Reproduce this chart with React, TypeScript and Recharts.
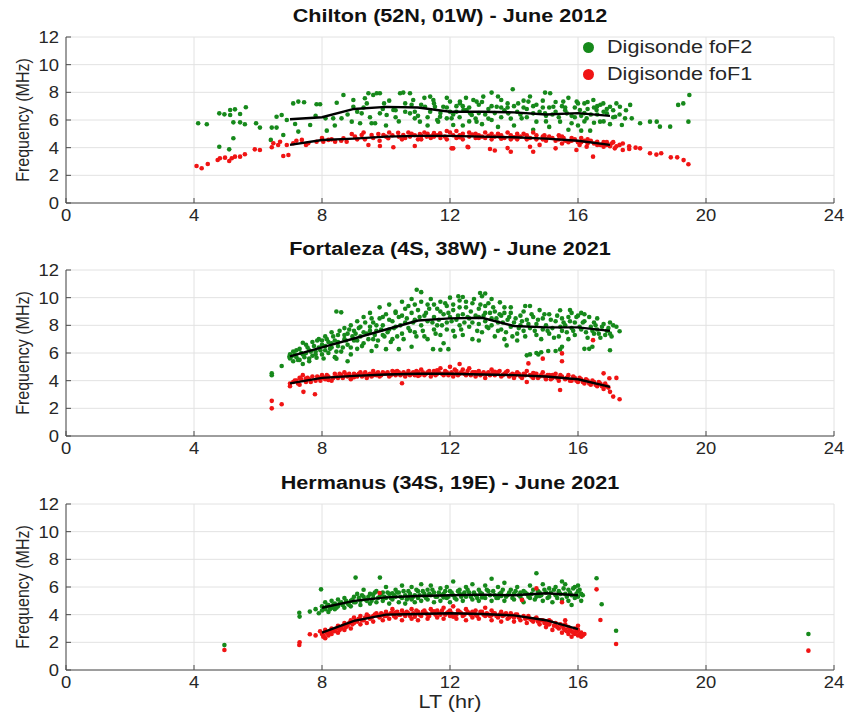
import React from 'react';
import { ScatterChart, Scatter, XAxis, YAxis, CartesianGrid } from 'recharts';

// Axis ticks
const xTicks = [0, 4, 8, 12, 16, 20, 24];
const yTicks = [0, 2, 4, 6, 8, 10, 12];

// Chilton (52N, 01W) - June 2012
const chiltonF2: [number, number][] = [
  [4.13, 5.76], [4.4, 5.69], [4.79, 6.48], [4.95, 6.41], [5.13, 6.72], [5.28, 6.77], [5.62, 6.92], [5.13, 6.36],
  [5.44, 6.43], [5.23, 5.83], [5.44, 5.83], [5.59, 5.69], [5.94, 5.76], [6.06, 5.45], [6.43, 5.45], [6.58, 5.45],
  [6.4, 4.56], [4.79, 4.07], [5.23, 4.68], [5.1, 3.88], [6.58, 6.24], [6.74, 6.36], [6.9, 6.0], [7.1, 7.2],
  [7.26, 7.33], [7.44, 7.28], [7.16, 5.71], [7.26, 5.16], [6.79, 4.92], [7.63, 5.64], [7.83, 7.14], [7.94, 7.14],
  [8.15, 5.23], [8.11, 6.12], [8.46, 7.25], [8.67, 7.81], [8.35, 6.12], [8.61, 6.12], [8.98, 7.45], [8.98, 6.96],
  [8.93, 5.88], [9.19, 5.76], [9.24, 6.48], [9.34, 7.57], [9.4, 7.2], [9.45, 7.93], [9.6, 7.81], [9.71, 7.93],
  [9.81, 7.93], [9.55, 5.76], [9.66, 5.76], [9.81, 6.48], [9.94, 7.2], [10.02, 6.36], [10.23, 6.72], [10.44, 7.93],
  [10.54, 7.98], [10.75, 7.93], [10.75, 6.48], [10.85, 7.45], [10.9, 6.12], [11.06, 5.88], [11.22, 6.96], [11.38, 6.6],
  [11.48, 7.45], [11.63, 5.88], [11.79, 6.96], [11.9, 6.12], [12.1, 5.64], [12.31, 7.33], [12.52, 6.72], [12.68, 6.36],
  [12.83, 7.33], [11.38, 7.69], [11.53, 6.96], [11.69, 6.24], [12.0, 7.33], [12.05, 6.12], [12.31, 7.2], [12.42, 6.72],
  [12.63, 6.48], [12.73, 7.45], [12.83, 5.88], [13.04, 7.69], [13.3, 7.98], [13.3, 6.0], [13.46, 6.96], [13.6, 7.45],
  [13.82, 6.48], [13.96, 8.22], [14.13, 7.2], [14.24, 6.12], [14.45, 7.33], [14.6, 6.48], [14.7, 5.88], [14.97, 7.98],
  [15.13, 7.93], [14.97, 6.48], [15.23, 6.96], [15.44, 5.88], [15.54, 7.33], [15.65, 6.48], [15.8, 5.76], [15.96, 7.33],
  [16.06, 6.72], [16.1, 5.23], [16.2, 7.2], [16.27, 6.12], [16.38, 5.23], [16.48, 7.45], [16.58, 6.72], [16.69, 5.88],
  [16.79, 7.2], [16.9, 6.48], [17.0, 6.96], [17.16, 6.24], [17.31, 6.96], [17.37, 5.64], [17.47, 6.12], [17.63, 7.09],
  [17.68, 6.12], [17.94, 5.76], [18.25, 5.88], [18.46, 5.88], [18.56, 5.52], [18.88, 5.52], [19.13, 7.09], [19.29, 7.2],
  [19.48, 7.81], [19.45, 5.88], [11.9, 6.9], [12.2, 6.6], [12.4, 7.0], [12.9, 7.1], [13.2, 6.8], [13.6, 6.2],
  [13.8, 6.9], [14.1, 6.6], [14.4, 6.8], [14.7, 7.1], [15.0, 6.3], [15.3, 6.6], [15.6, 6.9], [15.9, 6.2],
  [16.2, 6.5], [16.5, 6.9], [16.8, 6.6], [17.1, 6.2], [13.0, 5.7], [14.0, 5.6], [15.1, 5.5], [16.0, 5.6],
  [12.6, 5.9], [11.6, 6.0], [10.6, 7.2], [10.9, 6.6], [9.3, 6.9], [10.4, 5.9], [13.1, 6.4], [14.3, 7.4],
  [15.5, 7.0], [16.6, 7.0], [12.1, 6.4], [13.7, 6.7], [14.9, 6.9], [16.3, 6.8], [11.1, 7.1], [10.3, 6.7],
  [9.1, 6.6], [9.5, 6.2], [9.9, 6.8], [10.1, 7.4], [10.3, 6.2], [10.6, 6.6], [10.8, 7.1], [11.0, 6.3],
  [11.2, 7.6], [11.3, 6.2], [11.5, 7.2], [11.7, 6.5], [11.9, 7.6], [12.0, 6.6], [12.2, 7.0], [12.3, 6.2],
  [12.5, 7.6], [12.6, 6.9], [12.8, 6.1], [12.9, 6.5], [13.0, 7.3], [13.2, 6.1], [13.3, 7.0], [13.4, 6.5],
  [13.5, 7.7], [13.6, 6.9], [13.8, 7.2], [13.9, 6.1], [14.0, 7.0], [14.2, 6.4], [14.3, 6.9], [14.4, 6.2],
  [14.5, 7.7], [14.6, 7.0], [14.8, 6.6], [14.9, 7.4], [15.0, 5.9], [15.1, 6.9], [15.2, 6.4], [15.3, 7.3],
  [15.4, 6.2], [15.6, 6.7], [15.7, 7.6], [15.8, 6.3], [15.9, 6.9], [16.0, 7.2], [16.1, 6.3], [16.2, 5.9],
  [16.3, 7.3], [16.4, 6.4], [16.5, 5.8], [16.6, 6.4], [16.7, 7.1], [16.8, 5.9], [16.9, 6.8], [17.0, 5.7],
  [17.1, 6.7], [17.2, 7.2], [17.3, 6.4], [17.5, 6.7], [10.0, 5.6], [11.3, 5.6], [12.4, 5.6], [13.5, 5.5],
  [14.6, 5.3], [15.7, 5.3], [8.8, 6.4], [8.4, 5.6], [7.8, 6.3],
];
const chiltonF1: [number, number][] = [
  [4.08, 2.67], [4.24, 2.51], [4.43, 2.82], [4.74, 3.11], [4.81, 3.23], [4.97, 3.28], [5.1, 3.04], [5.18, 3.23],
  [5.28, 3.35], [5.44, 3.35], [5.59, 3.52], [5.9, 3.88], [6.06, 3.83], [6.43, 4.03], [6.48, 4.32], [6.63, 4.19],
  [6.69, 4.43], [6.79, 3.4], [6.95, 3.47], [6.9, 4.19], [7.1, 4.32], [7.37, 4.56], [7.57, 4.32], [7.83, 4.43],
  [8.04, 4.43], [8.2, 4.56], [8.41, 4.43], [8.67, 4.68], [8.77, 4.43], [8.93, 4.99], [9.03, 4.8], [9.24, 4.92],
  [9.34, 4.6], [9.45, 4.19], [9.55, 4.92], [9.76, 4.99], [9.81, 4.12], [9.92, 4.92], [10.07, 4.68], [10.23, 4.03],
  [10.38, 5.08], [10.54, 4.92], [10.75, 4.8], [10.9, 4.12], [11.06, 4.99], [11.27, 4.8], [11.48, 4.92], [11.69, 5.04],
  [11.84, 4.8], [12.1, 3.95], [12.57, 4.03], [11.38, 4.8], [11.7, 4.9], [12.05, 3.95], [12.3, 4.9], [12.55, 4.07],
  [12.9, 4.7], [13.25, 3.9], [13.4, 3.8], [13.55, 4.8], [13.8, 3.97], [13.9, 3.7], [14.1, 4.8], [14.5, 4.07],
  [14.6, 3.7], [14.8, 4.2], [14.95, 4.9], [15.3, 3.95], [15.55, 4.7], [15.95, 3.83], [16.05, 4.2], [16.27, 4.07],
  [16.47, 3.35], [16.6, 4.43], [16.8, 4.07], [17.05, 4.3], [17.15, 3.95], [17.3, 4.2], [17.4, 3.83], [17.6, 3.9],
  [17.94, 3.95], [18.25, 3.6], [18.45, 3.5], [18.6, 3.6], [18.9, 3.3], [19.1, 3.3], [19.3, 3.1], [19.45, 2.8],
  [10.6, 4.7], [10.8, 5.0], [11.0, 4.6], [11.2, 5.1], [11.4, 4.7], [11.6, 4.9], [11.9, 4.6], [12.0, 5.1],
  [12.2, 4.7], [12.4, 5.0], [12.6, 4.8], [12.8, 5.0], [13.0, 4.8], [13.1, 5.1], [13.3, 4.6], [13.5, 5.0],
  [13.7, 4.7], [13.9, 4.9], [14.1, 4.6], [14.3, 5.0], [14.5, 4.7], [14.7, 4.9], [14.9, 4.6], [15.1, 4.8],
  [15.3, 4.5], [15.5, 4.8], [15.7, 4.4], [15.9, 4.6], [16.1, 4.4], [16.3, 4.6], [16.5, 4.3], [16.7, 4.2],
  [16.9, 4.4], [17.0, 4.1], [10.2, 4.9], [10.5, 4.6], [11.1, 4.85], [11.5, 5.05], [12.3, 4.75], [12.7, 4.95],
  [13.2, 4.85], [13.6, 4.65], [14.0, 4.75], [14.4, 4.9], [15.0, 4.65], [15.4, 4.9], [15.8, 4.7], [16.2, 4.5],
  [9.1, 4.6], [9.3, 5.1], [9.6, 4.7], [9.8, 4.5], [10.0, 4.8], [10.1, 5.1], [10.4, 4.8], [10.7, 5.1],
  [10.9, 4.9], [11.1, 4.6], [11.3, 5.0], [11.5, 4.8], [11.7, 4.7], [11.9, 5.2], [12.1, 4.9], [12.2, 5.2],
  [12.4, 4.6], [12.6, 5.1], [12.8, 4.7], [12.9, 4.9], [13.1, 4.7], [13.3, 5.0], [13.4, 4.8], [13.6, 4.9],
  [13.8, 5.1], [13.9, 4.6], [14.1, 5.0], [14.2, 4.8], [14.4, 4.6], [14.6, 5.1], [14.7, 4.6], [14.9, 4.8],
  [15.0, 4.5], [15.2, 4.7], [15.4, 4.6], [15.5, 4.3], [15.6, 4.5], [15.8, 4.5], [16.0, 4.4], [16.1, 4.7],
  [16.3, 4.3], [16.4, 4.5], [16.6, 4.2], [16.8, 4.4], [16.9, 4.2], [17.1, 4.4], [17.2, 4.1], [17.4, 4.3],
  [17.6, 4.1], [17.8, 4.0], [7.5, 4.2], [8.0, 4.7], [8.3, 4.6], [8.6, 4.5], [7.2, 4.5],
];
const chiltonF2Median: [number, number][] = [
  [7, 6.05], [8, 6.2], [9, 6.8], [10, 6.95], [11, 6.9], [12, 6.6], [13, 6.6], [14, 6.55], [15, 6.4], [16, 6.5], [17, 6.3],
];
const chiltonF1Median: [number, number][] = [
  [7, 4.2], [8, 4.55], [9, 4.65], [10, 4.8], [11, 4.85], [12, 4.85], [13, 4.8], [14, 4.75], [15, 4.65], [16, 4.5], [17, 4.2],
];

// Fortaleza (4S, 38W) - June 2021
const fortalezaF2: [number, number][] = [
  [6.43, 4.53], [6.43, 4.39], [6.74, 5.06], [6.98, 5.73], [7.0, 5.6], [7.0, 5.9], [7.1, 5.4], [7.1, 6.1],
  [7.2, 5.7], [7.3, 5.5], [7.3, 6.3], [7.4, 5.9], [7.4, 5.2], [7.4, 6.74], [7.5, 6.0], [7.5, 6.6], [7.6, 5.6],
  [7.6, 6.2], [7.7, 5.8], [7.7, 6.8], [7.8, 6.1], [7.83, 5.66], [7.9, 6.4], [7.9, 7.0], [8.0, 5.9], [8.0, 6.6],
  [8.1, 6.2], [8.1, 7.2], [8.2, 6.0], [8.2, 6.8], [8.3, 6.4], [8.3, 7.5], [8.4, 5.7], [8.4, 6.9], [8.45, 5.59],
  [8.5, 6.5], [8.5, 7.3], [8.45, 9.0], [8.6, 8.94], [8.6, 6.1], [8.7, 7.0], [8.7, 7.8], [8.8, 6.6], [8.8, 5.4],
  [8.8, 7.4], [8.9, 5.9], [8.9, 8.0], [9.0, 6.9], [9.0, 7.6], [9.1, 6.3], [9.1, 8.3], [9.2, 7.2], [9.2, 7.9],
  [9.3, 6.7], [9.3, 8.6], [9.4, 7.4], [9.55, 6.14], [9.5, 7.9], [9.5, 8.9], [9.6, 7.0], [9.6, 8.2], [9.7, 6.5],
  [9.7, 7.6], [9.8, 8.5], [9.8, 9.3], [9.9, 7.3], [9.9, 8.0], [10.0, 6.28], [10.0, 8.8], [10.1, 7.7], [10.1, 9.5],
  [10.2, 8.3], [10.2, 7.0], [10.3, 9.0], [10.3, 7.9], [10.4, 8.6], [10.4, 6.28], [10.5, 9.7], [10.5, 7.4],
  [10.6, 8.2], [10.6, 9.2], [10.7, 7.8], [10.8, 6.45], [10.8, 8.9], [10.8, 9.9], [10.9, 7.5], [10.9, 8.4],
  [10.96, 10.57], [11.0, 9.1], [11.1, 8.0], [11.1, 10.4], [11.2, 8.7], [11.2, 7.2], [11.3, 9.5], [11.3, 8.3],
  [11.4, 9.9], [11.47, 6.28], [11.5, 8.6], [11.5, 7.7], [11.6, 9.2], [11.6, 8.0], [11.7, 6.23], [11.7, 9.7],
  [11.7, 7.3], [11.8, 8.8], [11.8, 6.7], [11.9, 9.4], [11.9, 8.2], [11.95, 6.28], [12.0, 8.6], [12.0, 10.0],
  [12.1, 7.6], [12.1, 9.1], [12.2, 8.4], [12.26, 10.1], [12.3, 9.8], [12.3, 8.0], [12.4, 8.8], [12.4, 10.05],
  [12.4, 7.3], [12.5, 9.3], [12.6, 8.5], [12.6, 7.9], [12.7, 9.6], [12.7, 7.0], [12.8, 8.7], [12.9, 6.9],
  [12.94, 10.34], [12.9, 8.1], [12.9, 9.2], [13.0, 10.1], [13.0, 7.5], [13.1, 10.3], [13.1, 8.9], [13.1, 8.3],
  [13.2, 9.6], [13.2, 7.8], [13.3, 8.5], [13.3, 9.9], [13.4, 7.2], [13.4, 9.0], [13.5, 8.2], [13.56, 9.66],
  [13.6, 7.7], [13.6, 8.7], [13.7, 9.3], [13.7, 7.0], [13.77, 6.55], [13.8, 8.4], [13.9, 8.9], [13.9, 7.9],
  [14.0, 8.2], [14.1, 6.9], [14.1, 7.4], [14.2, 8.0], [14.2, 8.7], [14.3, 7.6], [14.35, 9.4], [14.4, 8.4],
  [14.4, 5.83], [14.5, 7.8], [14.5, 5.9], [14.5, 9.4], [14.6, 8.6], [14.7, 6.0], [14.7, 7.3], [14.7, 8.1],
  [14.76, 5.9], [14.8, 9.1], [14.85, 6.05], [14.9, 7.7], [14.9, 8.5], [15.0, 8.0], [15.07, 6.14], [15.1, 7.4],
  [15.1, 8.8], [15.2, 7.8], [15.3, 6.14], [15.3, 8.3], [15.44, 9.09], [15.4, 7.2], [15.44, 6.26], [15.5, 6.45],
  [15.5, 8.5], [15.5, 7.6], [15.6, 8.0], [15.7, 7.0], [15.75, 9.1], [15.7, 8.6], [15.8, 7.8], [15.8, 8.9],
  [15.9, 8.2], [15.9, 7.3], [16.0, 8.7], [16.1, 7.7], [16.1, 8.9], [16.2, 8.3], [16.2, 6.3], [16.2, 8.8],
  [16.3, 7.1], [16.35, 6.3], [16.4, 7.9], [16.45, 6.45], [16.5, 7.4], [16.5, 8.2], [16.6, 7.7], [16.6, 8.5],
  [16.7, 7.1], [16.8, 8.1], [16.9, 7.6], [17.0, 8.2], [17.0, 7.4], [17.0, 6.2], [17.1, 8.0], [17.2, 7.9], [17.3, 7.57],
  [7.05, 5.75], [7.15, 5.9], [7.2, 6.2], [7.25, 5.5], [7.35, 6.0], [7.45, 5.7], [7.55, 6.4], [7.6, 5.4],
  [7.65, 6.1], [7.75, 6.5], [7.8, 5.9], [7.85, 6.9], [7.95, 6.2], [8.0, 6.9], [8.05, 5.6], [8.1, 6.5],
  [8.15, 7.0], [8.25, 6.3], [8.3, 6.7], [8.35, 7.2], [8.45, 6.1], [8.5, 6.8], [8.55, 7.6], [8.65, 6.4],
  [8.7, 7.3], [8.75, 6.9], [8.85, 7.7], [8.9, 6.4], [8.95, 7.2], [9.05, 7.4], [9.1, 6.9], [9.15, 7.8],
  [9.25, 6.5], [9.3, 7.5], [9.35, 8.2], [9.45, 7.0], [9.5, 7.6], [9.55, 8.5], [9.65, 7.3], [9.7, 8.0],
  [9.75, 6.9], [9.85, 7.7], [9.9, 8.6], [9.95, 7.2], [10.05, 7.5], [10.1, 8.4], [10.15, 6.8], [10.25, 7.8],
  [10.3, 8.9], [10.35, 7.2], [10.45, 8.0], [10.5, 8.7], [10.55, 7.0], [10.65, 8.5], [10.7, 9.4], [10.75, 7.6],
  [10.85, 8.2], [10.9, 9.5], [10.95, 7.2], [11.05, 8.6], [11.1, 9.7], [11.15, 7.6], [11.25, 8.9], [11.3, 7.0],
  [11.35, 9.2], [11.45, 8.2], [11.5, 9.5], [11.55, 7.4], [11.65, 8.4], [11.7, 9.0], [11.75, 8.0], [11.85, 9.6],
  [11.9, 7.7], [11.95, 8.9], [12.05, 8.3], [12.1, 9.5], [12.15, 7.2], [12.25, 8.7], [12.3, 9.3], [12.35, 7.7],
  [12.45, 8.2], [12.5, 9.7], [12.55, 8.6], [12.65, 9.0], [12.7, 8.2], [12.75, 9.9], [12.85, 7.6], [12.9, 8.6],
  [12.95, 9.5], [13.05, 8.7], [13.1, 9.4], [13.15, 7.9], [13.25, 8.9], [13.3, 8.0], [13.35, 9.3], [13.45, 8.5],
  [13.5, 7.6], [13.55, 8.8], [13.65, 8.2], [13.7, 8.9], [13.75, 7.5], [13.85, 8.6], [13.9, 9.3], [13.95, 7.2],
  [14.05, 8.5], [14.15, 7.8], [14.25, 8.3], [14.3, 9.0], [14.35, 7.2], [14.45, 8.1], [14.55, 8.8], [14.65, 7.6],
  [14.75, 8.4], [14.85, 7.0], [14.95, 8.8], [15.05, 7.6], [15.15, 8.4], [15.25, 7.1], [15.35, 8.7], [15.45, 7.9],
  [15.55, 8.2], [15.65, 7.5], [15.75, 8.3], [15.85, 7.6], [15.95, 8.6], [16.05, 7.9], [16.15, 8.2], [16.25, 7.5],
  [16.35, 8.6], [16.45, 7.6], [16.55, 8.0], [16.65, 7.4], [16.75, 7.9], [16.85, 7.3], [16.95, 7.8], [17.05, 7.2],
];
const fortalezaF1: [number, number][] = [
  [6.43, 2.54], [6.43, 2.0], [6.74, 2.3], [7.0, 3.6], [7.0, 3.8], [7.1, 3.9], [7.2, 4.0], [7.3, 3.7],
  [7.3, 4.2], [7.42, 3.19], [7.4, 4.4], [7.5, 3.9], [7.6, 4.1], [7.7, 4.3], [7.78, 3.02], [7.8, 4.0],
  [7.9, 4.2], [8.0, 4.4], [8.1, 4.1], [8.2, 4.3], [8.3, 4.0], [8.4, 4.5], [8.5, 4.2], [8.6, 4.4],
  [8.7, 4.6], [8.8, 4.3], [8.9, 4.1], [9.0, 4.5], [9.1, 4.3], [9.2, 4.6], [9.3, 4.4], [9.4, 4.2],
  [9.5, 4.5], [9.6, 4.7], [9.7, 4.4], [9.8, 4.3], [9.9, 4.6], [10.0, 4.5], [10.1, 4.3], [10.2, 4.7],
  [10.3, 4.4], [10.4, 4.6], [10.5, 3.81], [10.5, 4.5], [10.6, 4.3], [10.7, 4.7], [10.8, 4.5], [10.9, 4.4],
  [11.0, 4.6], [11.1, 4.8], [11.2, 4.4], [11.3, 4.6], [11.4, 4.3], [11.5, 4.7], [11.6, 4.5], [11.7, 4.9],
  [11.8, 4.4], [11.9, 4.6], [12.0, 4.5], [12.0, 5.0], [12.1, 4.3], [12.2, 4.7], [12.3, 5.2], [12.3, 4.5],
  [12.4, 4.8], [12.5, 4.4], [12.6, 4.9], [12.7, 4.6], [12.8, 4.3], [12.9, 4.7], [13.0, 4.5], [13.1, 4.2],
  [13.2, 4.6], [13.3, 4.8], [13.4, 4.4], [13.5, 4.6], [13.6, 4.3], [13.7, 4.5], [13.8, 4.7], [13.9, 4.4],
  [14.0, 4.2], [14.1, 4.6], [14.2, 4.3], [14.3, 4.5], [14.4, 3.9], [14.4, 4.7], [14.45, 5.25], [14.5, 4.4],
  [14.6, 4.2], [14.7, 4.5], [14.9, 5.59], [14.8, 4.3], [14.9, 4.6], [15.0, 4.1], [15.1, 4.4], [15.2, 4.2],
  [15.3, 4.5], [15.44, 3.33], [15.4, 4.0], [15.5, 5.97], [15.5, 5.4], [15.5, 4.3], [15.6, 4.1], [15.7, 4.4],
  [15.8, 4.0], [15.9, 4.2], [16.0, 3.9], [16.1, 4.1], [16.2, 3.8], [16.3, 4.0], [16.47, 6.93], [16.4, 3.7],
  [16.8, 4.53], [16.5, 3.9], [16.6, 3.6], [16.7, 3.8], [16.8, 3.4], [16.98, 4.17], [16.9, 3.6], [17.1, 2.85],
  [17.0, 3.19], [17.2, 4.2], [17.3, 2.66], [7.5, 4.15], [8.2, 4.05], [9.0, 4.25], [9.6, 4.4], [10.3, 4.65],
  [11.0, 4.35], [11.6, 4.75], [12.2, 4.5], [12.8, 4.6], [13.4, 4.65], [14.0, 4.45], [14.6, 4.55], [15.2, 4.4],
  [7.15, 4.0], [7.25, 3.8], [7.35, 4.1], [7.55, 4.2], [7.65, 3.9], [7.85, 4.3], [7.95, 4.0], [8.05, 4.2],
  [8.15, 4.4], [8.35, 4.2], [8.45, 4.3], [8.55, 4.5], [8.65, 4.2], [8.75, 4.4], [8.85, 4.5], [8.95, 4.3],
  [9.05, 4.4], [9.15, 4.5], [9.25, 4.3], [9.35, 4.6], [9.45, 4.4], [9.55, 4.3], [9.65, 4.5], [9.75, 4.6],
  [9.85, 4.4], [9.95, 4.5], [10.05, 4.6], [10.15, 4.4], [10.25, 4.5], [10.35, 4.7], [10.45, 4.4], [10.55, 4.6],
  [10.65, 4.5], [10.75, 4.4], [10.85, 4.6], [10.95, 4.7], [11.05, 4.4], [11.15, 4.6], [11.25, 4.5], [11.35, 4.7],
  [11.45, 4.5], [11.55, 4.4], [11.65, 4.6], [11.75, 4.5], [11.85, 4.7], [11.95, 4.4], [12.05, 4.6], [12.15, 4.8],
  [12.25, 4.4], [12.35, 4.6], [12.45, 4.5], [12.55, 4.7], [12.65, 4.4], [12.75, 4.6], [12.85, 4.5], [12.95, 4.4],
  [13.05, 4.6], [13.15, 4.5], [13.25, 4.4], [13.35, 4.6], [13.45, 4.5], [13.55, 4.7], [13.65, 4.4], [13.75, 4.6],
  [13.85, 4.3], [13.95, 4.5], [14.05, 4.4], [14.15, 4.5], [14.25, 4.2], [14.35, 4.4], [14.55, 4.3], [14.65, 4.5],
  [14.75, 4.2], [14.85, 4.4], [14.95, 4.3], [15.05, 4.4], [15.15, 4.1], [15.25, 4.3], [15.35, 4.2], [15.45, 4.4],
  [15.65, 4.2], [15.75, 4.0], [15.85, 4.3], [15.95, 4.0], [16.05, 4.2], [16.15, 3.9], [16.25, 4.1], [16.35, 3.8],
  [16.45, 4.0], [16.55, 3.7], [16.65, 3.9], [16.75, 3.6], [16.85, 3.8], [16.95, 3.5],
];
const fortalezaF2Median: [number, number][] = [
  [7, 5.75], [8, 6.4], [9, 7.05], [10, 7.7], [11, 8.35], [12, 8.5], [13, 8.55], [14, 7.95], [15, 7.85], [16, 7.85], [17, 7.6],
];
const fortalezaF1Median: [number, number][] = [
  [7, 3.8], [8, 4.2], [9, 4.35], [10, 4.45], [11, 4.5], [12, 4.5], [13, 4.45], [14, 4.4], [15, 4.3], [16, 4.1], [17, 3.55],
];

// Hermanus (34S, 19E) - June 2021
const hermanusF2: [number, number][] = [
  [4.95, 1.8], [7.29, 4.14], [7.3, 3.86], [7.62, 4.22], [7.8, 4.4], [7.9, 4.1], [7.97, 5.83], [8.0, 4.6],
  [8.0, 4.3], [8.1, 4.9], [8.1, 4.4], [8.2, 4.2], [8.2, 4.7], [8.3, 4.5], [8.3, 5.0], [8.4, 4.4],
  [8.4, 4.8], [8.5, 5.1], [8.5, 4.6], [8.6, 4.9], [8.7, 4.5], [8.7, 5.2], [8.8, 4.8], [8.9, 5.0],
  [8.9, 4.6], [9.0, 5.3], [9.05, 6.68], [9.0, 4.9], [9.1, 5.5], [9.2, 5.0], [9.2, 4.7], [9.3, 5.3],
  [9.3, 5.8], [9.4, 5.0], [9.5, 5.5], [9.5, 4.8], [9.6, 5.2], [9.7, 5.7], [9.7, 4.9], [9.81, 6.68],
  [9.8, 5.3], [9.9, 5.0], [9.9, 5.6], [10.0, 5.2], [10.0, 6.0], [10.1, 4.8], [10.1, 5.5], [10.2, 5.1],
  [10.3, 5.8], [10.3, 5.3], [10.4, 4.9], [10.4, 5.6], [10.5, 5.2], [10.5, 6.1], [10.6, 5.4], [10.6, 4.8],
  [10.7, 5.7], [10.8, 5.1], [10.8, 6.0], [10.9, 5.4], [10.9, 4.9], [11.0, 5.7], [11.0, 5.2], [11.1, 6.2],
  [11.1, 5.0], [11.2, 5.5], [11.3, 5.8], [11.3, 5.1], [11.4, 5.4], [11.4, 6.1], [11.5, 4.9], [11.5, 5.6],
  [11.6, 5.3], [11.7, 5.9], [11.7, 5.0], [11.8, 5.5], [11.9, 6.0], [11.9, 5.2], [12.0, 5.7], [12.0, 4.9],
  [12.1, 6.4], [12.1, 5.4], [12.2, 5.1], [12.3, 5.8], [12.3, 5.5], [12.4, 5.0], [12.5, 6.0], [12.5, 5.3],
  [12.6, 5.6], [12.7, 5.1], [12.7, 6.2], [12.8, 5.4], [12.9, 5.8], [12.9, 5.0], [13.0, 5.5], [13.1, 6.1],
  [13.1, 5.2], [13.2, 5.7], [13.3, 6.6], [13.3, 5.0], [13.4, 5.4], [13.5, 6.0], [13.5, 5.2], [13.6, 5.6],
  [13.7, 5.0], [13.7, 6.3], [13.8, 5.4], [13.9, 5.8], [14.0, 5.1], [14.0, 5.5], [14.1, 6.0], [14.2, 5.3],
  [14.3, 5.7], [14.3, 4.9], [14.4, 5.5], [14.5, 6.1], [14.5, 5.2], [14.6, 5.8], [14.7, 6.99], [14.7, 5.3],
  [14.8, 5.6], [14.9, 6.2], [14.9, 5.0], [15.0, 5.6], [15.1, 5.9], [15.1, 5.3], [15.2, 4.9], [15.3, 6.0],
  [15.3, 5.4], [15.4, 5.7], [15.5, 6.4], [15.5, 5.1], [15.6, 5.5], [15.6, 6.2], [15.7, 5.0], [15.7, 5.8],
  [15.8, 5.4], [15.8, 4.7], [15.9, 6.0], [15.9, 5.2], [16.0, 5.7], [16.0, 6.1], [16.1, 5.0], [16.1, 5.5],
  [16.58, 6.63], [16.74, 4.75], [17.19, 2.84], [23.2, 2.6], [9.6, 5.45], [10.2, 5.55], [10.7, 5.25], [11.2, 5.35],
  [11.8, 5.25], [12.4, 5.45], [13.0, 5.25], [13.6, 5.35], [14.2, 5.6], [14.8, 5.35], [15.4, 5.55], [16.0, 5.3],
  [8.05, 4.5], [8.15, 4.6], [8.25, 4.4], [8.35, 4.7], [8.45, 4.5], [8.55, 4.8], [8.65, 4.7], [8.75, 5.0],
  [8.85, 4.7], [8.95, 5.1], [9.05, 4.9], [9.15, 5.2], [9.25, 5.4], [9.35, 5.1], [9.45, 5.3], [9.55, 5.0],
  [9.65, 5.6], [9.75, 5.2], [9.85, 5.5], [9.95, 5.3], [10.05, 5.6], [10.15, 5.2], [10.25, 5.4], [10.35, 5.6],
  [10.45, 5.3], [10.55, 5.7], [10.65, 5.1], [10.75, 5.5], [10.85, 5.3], [10.95, 5.8], [11.05, 5.4], [11.15, 5.7],
  [11.25, 5.2], [11.35, 5.5], [11.45, 5.8], [11.55, 5.3], [11.65, 5.6], [11.75, 5.4], [11.85, 5.7], [11.95, 5.3],
  [12.05, 5.6], [12.15, 5.2], [12.25, 5.7], [12.35, 5.3], [12.45, 5.6], [12.55, 5.8], [12.65, 5.3], [12.75, 5.6],
  [12.85, 5.2], [12.95, 5.6], [13.05, 5.3], [13.15, 5.8], [13.25, 5.4], [13.35, 5.7], [13.45, 5.2], [13.55, 5.5],
  [13.65, 5.8], [13.75, 5.3], [13.85, 5.6], [13.95, 5.2], [14.05, 5.7], [14.15, 5.4], [14.25, 5.1], [14.35, 5.6],
  [14.45, 5.3], [14.55, 5.5], [14.65, 5.1], [14.75, 5.7], [14.85, 5.4], [14.95, 5.8], [15.05, 5.2], [15.15, 5.6],
  [15.25, 5.8], [15.35, 5.2], [15.45, 5.5], [15.55, 5.9], [15.65, 5.3], [15.75, 5.6], [15.85, 5.9], [15.95, 5.5],
  [16.05, 5.8], [16.15, 5.4],
];
const hermanusF1: [number, number][] = [
  [4.95, 1.45], [7.29, 1.81], [7.3, 2.0], [7.62, 2.58], [7.8, 2.5], [7.94, 2.8], [8.04, 2.41], [8.0, 2.6],
  [8.1, 2.3], [8.1, 2.9], [8.2, 2.5], [8.2, 2.7], [8.3, 3.0], [8.3, 2.6], [8.4, 2.8], [8.5, 3.2],
  [8.5, 2.7], [8.6, 3.0], [8.7, 3.4], [8.7, 2.9], [8.8, 3.2], [8.9, 3.6], [8.9, 3.0], [9.0, 3.4],
  [9.0, 3.8], [9.1, 3.5], [9.2, 3.3], [9.2, 3.9], [9.3, 3.6], [9.4, 4.0], [9.4, 3.4], [9.5, 3.7],
  [9.6, 3.9], [9.6, 3.5], [9.7, 4.1], [9.8, 5.57], [9.8, 3.8], [9.9, 4.0], [9.9, 3.6], [10.0, 4.2],
  [10.0, 3.9], [10.1, 3.7], [10.2, 4.1], [10.2, 4.4], [10.3, 3.8], [10.4, 4.0], [10.5, 4.3], [10.5, 3.6],
  [10.6, 3.9], [10.7, 4.1], [10.8, 4.4], [10.8, 3.7], [10.9, 4.0], [11.0, 4.2], [11.0, 3.6], [11.1, 3.9],
  [11.2, 4.3], [11.3, 4.0], [11.3, 3.7], [11.4, 4.4], [11.5, 4.1], [11.6, 3.8], [11.6, 4.3], [11.7, 4.0],
  [11.8, 4.5], [11.8, 3.7], [11.9, 4.1], [12.0, 3.9], [12.0, 4.3], [12.1, 4.6], [12.2, 4.0], [12.2, 3.7],
  [12.3, 4.2], [12.4, 3.9], [12.5, 4.4], [12.5, 3.6], [12.6, 4.1], [12.7, 3.8], [12.8, 4.3], [12.8, 4.0],
  [12.9, 3.7], [13.0, 4.2], [13.1, 4.5], [13.1, 3.9], [13.2, 4.0], [13.3, 3.6], [13.3, 4.3], [13.4, 4.1],
  [13.5, 3.8], [13.6, 4.2], [13.6, 3.5], [13.7, 4.0], [13.8, 3.7], [13.9, 4.1], [14.0, 3.8], [14.0, 3.5],
  [14.1, 4.0], [14.2, 3.6], [14.25, 5.06], [14.3, 3.9], [14.4, 3.4], [14.5, 3.7], [14.6, 3.5], [14.7, 5.9],
  [14.7, 3.8], [14.8, 3.3], [14.9, 3.6], [15.0, 3.1], [15.0, 3.5], [15.1, 3.3], [15.2, 2.9], [15.3, 3.4],
  [15.4, 3.0], [15.5, 4.9], [15.5, 2.7], [15.5, 3.2], [15.6, 2.9], [15.6, 3.6], [15.7, 2.6], [15.7, 3.1],
  [15.8, 2.8], [15.8, 2.4], [15.9, 3.0], [15.9, 2.6], [16.0, 2.5], [16.0, 2.9], [16.1, 2.7], [16.1, 2.4],
  [16.2, 2.6], [16.58, 5.83], [16.7, 3.61], [17.19, 1.88], [23.2, 1.4], [10.3, 4.15], [10.9, 3.85], [11.5, 4.25],
  [12.1, 3.85], [12.7, 4.2], [13.3, 3.95], [13.9, 3.9], [14.4, 3.75], [15.1, 3.6], [15.6, 3.3], [16.0, 3.2],
  [8.05, 2.5], [8.15, 2.7], [8.25, 2.8], [8.35, 2.9], [8.45, 3.0], [8.55, 2.9], [8.65, 3.2], [8.75, 3.1],
  [8.85, 3.4], [8.95, 3.3], [9.05, 3.6], [9.15, 3.7], [9.25, 3.6], [9.35, 3.8], [9.45, 3.9], [9.55, 3.8],
  [9.65, 4.0], [9.75, 3.9], [9.85, 4.1], [9.95, 3.9], [10.05, 4.0], [10.15, 4.1], [10.25, 3.9], [10.35, 4.2],
  [10.45, 4.0], [10.55, 4.1], [10.65, 4.2], [10.75, 3.9], [10.85, 4.1], [10.95, 4.3], [11.05, 4.0], [11.15, 4.2],
  [11.25, 4.1], [11.35, 3.9], [11.45, 4.2], [11.55, 4.0], [11.65, 4.1], [11.75, 4.3], [11.85, 4.0], [11.95, 4.2],
  [12.05, 4.1], [12.15, 3.9], [12.25, 4.3], [12.35, 4.1], [12.45, 4.0], [12.55, 4.2], [12.65, 4.0], [12.75, 4.1],
  [12.85, 3.9], [12.95, 4.2], [13.05, 4.0], [13.15, 4.1], [13.25, 3.9], [13.35, 4.1], [13.45, 3.9], [13.55, 4.0],
  [13.65, 3.9], [13.75, 4.1], [13.85, 3.8], [13.95, 3.9], [14.05, 4.0], [14.15, 3.8], [14.35, 3.7], [14.45, 3.9],
  [14.55, 3.6], [14.65, 3.7], [14.75, 3.5], [14.85, 3.6], [14.95, 3.4], [15.05, 3.3], [15.15, 3.5], [15.25, 3.2],
  [15.35, 3.1], [15.45, 3.3], [15.55, 3.0], [15.65, 2.8], [15.75, 2.9], [15.85, 2.7], [15.95, 2.8], [16.05, 2.6],
  [16.15, 2.5],
];
const hermanusF2Median: [number, number][] = [
  [8, 4.5], [9, 5.0], [10, 5.25], [11, 5.35], [12, 5.4], [13, 5.45], [14, 5.4], [15, 5.55], [16, 5.4],
];
const hermanusF1Median: [number, number][] = [
  [8, 2.7], [9, 3.55], [10, 4.0], [11, 4.05], [12, 4.1], [13, 4.05], [14, 3.95], [15, 3.6], [16, 2.95],
];

const GREEN = '#16891b';
const RED = '#f01414';
const FONT = '"Liberation Sans", Arial, Helvetica, sans-serif';
const TEXT = '#262626';
const AXIS = '#4a4a4a';

// plot box inside each chart (chart coordinates)
const PLOT_LEFT = 66;
const PLOT_TOP = 37;
const PLOT_BOTTOM = 203;
const CHART_H = 233;

const toPoints = (arr: [number, number][]) => arr.map(([x, y]) => ({ x, y }));

const dot = (color: string) => (p: any) => <circle cx={p.cx} cy={p.cy} r={2.3} fill={color} />;
const noDot = () => <g />;

const XTick = (props: any) => {
  const { x, payload } = props;
  return (
    <g>
      <line x1={x} x2={x} y1={PLOT_BOTTOM} y2={PLOT_BOTTOM - 5} stroke={AXIS} />
      <text
        transform={`translate(${x},${PLOT_BOTTOM + 18}) scale(1.15,1)`}
        textAnchor="middle"
        fontSize={16}
        fontFamily={FONT}
        fill={TEXT}
      >
        {payload.value}
      </text>
    </g>
  );
};

const YTick = (props: any) => {
  const { y, payload } = props;
  return (
    <g>
      <line x1={PLOT_LEFT} x2={PLOT_LEFT + 5} y1={y} y2={y} stroke={AXIS} />
      <text
        transform={`translate(${PLOT_LEFT - 7},${y + 6}) scale(1.15,1)`}
        textAnchor="end"
        fontSize={16}
        fontFamily={FONT}
        fill={TEXT}
      >
        {payload.value}
      </text>
    </g>
  );
};

interface PanelProps {
  top: number;
  title: string;
  f2: [number, number][];
  f1: [number, number][];
  medF2: [number, number][];
  medF1: [number, number][];
  legend?: boolean;
}

const Panel: React.FC<PanelProps> = ({ top, title, f2, f1, medF2, medF1, legend }) => (
  <div style={{ position: 'absolute', left: 0, top, width: 846, height: CHART_H }}>
    <ScatterChart
      width={846}
      height={CHART_H}
      margin={{ top: PLOT_TOP, right: 12, bottom: 0, left: 0 }}
      style={{ overflow: 'visible' }}
    >
      <CartesianGrid stroke="#e2e2e2" />
      <XAxis
        type="number"
        dataKey="x"
        domain={[0, 24]}
        ticks={xTicks}
        interval={0}
        height={30}
        axisLine={{ stroke: AXIS }}
        tickLine={false}
        tick={<XTick />}
      />
      <YAxis
        type="number"
        dataKey="y"
        domain={[0, 12]}
        ticks={yTicks}
        interval={0}
        width={PLOT_LEFT}
        axisLine={{ stroke: AXIS }}
        tickLine={false}
        tick={<YTick />}
      />
      <Scatter data={toPoints(f2)} shape={dot(GREEN)} isAnimationActive={false} />
      <Scatter data={toPoints(f1)} shape={dot(RED)} isAnimationActive={false} />
      <Scatter
        data={toPoints(medF2)}
        line={{ stroke: '#000', strokeWidth: 2.4 }}
        lineType="joint"
        shape={noDot}
        isAnimationActive={false}
      />
      <Scatter
        data={toPoints(medF1)}
        line={{ stroke: '#000', strokeWidth: 2.4 }}
        lineType="joint"
        shape={noDot}
        isAnimationActive={false}
      />
    </ScatterChart>

    <div
      style={{
        position: 'absolute',
        left: PLOT_LEFT,
        width: 768,
        top: 5,
        height: 22,
        lineHeight: '22px',
        textAlign: 'center',
        fontFamily: FONT,
        fontWeight: 'bold',
        fontSize: 18,
        color: '#111',
        transform: 'scaleX(1.2)',
      }}
    >
      {title}
    </div>

    <div
      style={{
        position: 'absolute',
        left: 23 - 100,
        top: 120 - 11,
        width: 200,
        height: 22,
        lineHeight: '22px',
        textAlign: 'center',
        fontFamily: FONT,
        fontSize: 16,
        color: TEXT,
        transform: 'rotate(-90deg) scale(1, 1.2)',
      }}
    >
      Frequency (MHz)
    </div>

    {legend && (
      <div style={{ position: 'absolute', left: 0, top: 0, fontFamily: FONT, fontSize: 18, color: TEXT }}>
        {[
          { label: 'Digisonde foF2', color: GREEN, y: 47 },
          { label: 'Digisonde foF1', color: RED, y: 74 },
        ].map((item) => (
          <div key={item.label}>
            <div
              style={{
                position: 'absolute',
                left: 588 - 5.5,
                top: item.y - 5.5,
                width: 11,
                height: 11,
                borderRadius: '50%',
                background: item.color,
              }}
            />
            <div
              style={{
                position: 'absolute',
                left: 607,
                top: item.y - 11,
                height: 22,
                lineHeight: '22px',
                whiteSpace: 'nowrap',
                transform: 'scaleX(1.2)',
                transformOrigin: 'left center',
              }}
            >
              {item.label}
            </div>
          </div>
        ))}
      </div>
    )}
  </div>
);

const App: React.FC = () => (
  <>
    <style>{'html, body { margin: 0; padding: 0; overflow: hidden; background: #fff; }'}</style>
    <div style={{ position: 'absolute', left: 0, top: 0, width: 846, height: 713, background: '#fff' }}>
      <Panel
        top={0}
        title="Chilton (52N, 01W) - June 2012"
        f2={chiltonF2}
        f1={chiltonF1}
        medF2={chiltonF2Median}
        medF1={chiltonF1Median}
        legend
      />
      <Panel
        top={233}
        title="Fortaleza (4S, 38W) - June 2021"
        f2={fortalezaF2}
        f1={fortalezaF1}
        medF2={fortalezaF2Median}
        medF1={fortalezaF1Median}
      />
      <Panel
        top={467}
        title="Hermanus (34S, 19E) - June 2021"
        f2={hermanusF2}
        f1={hermanusF1}
        medF2={hermanusF2Median}
        medF1={hermanusF1Median}
      />
      <div
        style={{
          position: 'absolute',
          left: 350,
          width: 200,
          top: 691,
          height: 22,
          lineHeight: '22px',
          textAlign: 'center',
          fontFamily: FONT,
          fontSize: 18,
          color: TEXT,
          transform: 'scaleX(1.2)',
        }}
      >
        LT (hr)
      </div>
    </div>
  </>
);

export default App;
